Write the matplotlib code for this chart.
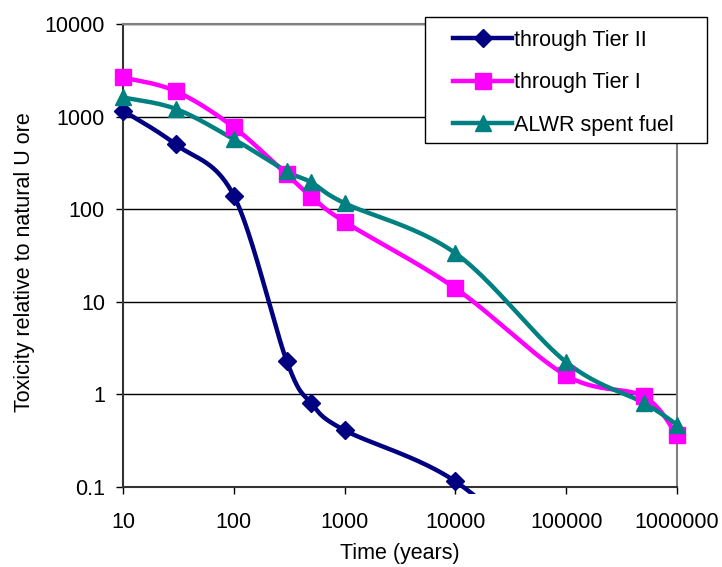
import numpy as np
import matplotlib
matplotlib.use("Agg")
import matplotlib.pyplot as plt
from matplotlib.patches import Rectangle

plt.rcParams['font.family'] = ['Liberation Sans', 'DejaVu Sans']

# data (time in years, toxicity relative to natural U ore)
years_tier2 = [10, 30, 100, 300, 500, 1000, 10000, 100000]
tox_tier2 = [1160, 500, 140, 2.3, 0.8, 0.41, 0.115, 0.01]

years_tier1 = [10, 30, 100, 300, 500, 1000, 10000, 100000, 500000, 1000000]
tox_tier1 = [2650, 1880, 767, 237, 137, 73, 14, 1.6, 0.95, 0.36]

years_alwr = [10, 30, 100, 300, 500, 1000, 10000, 100000, 500000, 1000000]
tox_alwr = [1610, 1210, 570, 257, 195, 116, 33.5, 2.23, 0.81, 0.47]

labels = ["through Tier II", "through Tier I", "ALWR spent fuel"]
colors = ["#000080", "#FF00FF", "#008080"]
markers = ["D", "s", "^"]
msizes = [9.5, 11, 11]

x_ticks = [10, 100, 1000, 10000, 100000, 1000000]
y_ticks = [0.1, 1, 10, 100, 1000, 10000]

FS = 15.5
W, H = 722, 567


def smooth(xs, ys, n=40):
    # catmull-rom in log space, roughly what excel's "smoothed line" does
    lx = np.log10(xs)
    ly = np.log10(ys)
    px = np.concatenate(([lx[0]], lx, [lx[-1]]))
    py = np.concatenate(([ly[0]], ly, [ly[-1]]))
    outx, outy = [], []
    for i in range(1, len(px) - 2):
        p0, p1, p2, p3 = px[i-1], px[i], px[i+1], px[i+2]
        q0, q1, q2, q3 = py[i-1], py[i], py[i+1], py[i+2]
        c1x, c1y = p1 + (p2 - p0) / 6, q1 + (q2 - q0) / 6
        c2x, c2y = p2 - (p3 - p1) / 6, q2 - (q3 - q1) / 6
        t = np.linspace(0, 1, n)
        bx = (1-t)**3*p1 + 3*(1-t)**2*t*c1x + 3*(1-t)*t**2*c2x + t**3*p2
        by = (1-t)**3*q1 + 3*(1-t)**2*t*c1y + 3*(1-t)*t**2*c2y + t**3*q2
        outx.extend(bx)
        outy.extend(by)
    return 10**np.array(outx), 10**np.array(outy)


fig = plt.figure(figsize=(W / 100, H / 100), dpi=100)
ax = fig.add_axes([123 / W, 1 - 487 / H, 554 / W, 463 / H])

# excel lets the lines run a few pixels past the bottom of the plot area
clip = Rectangle((0, -0.016), 1, 1.016, transform=ax.transAxes, fill=False, visible=False)
ax.add_patch(clip)

series = [(years_tier2, tox_tier2), (years_tier1, tox_tier1), (years_alwr, tox_alwr)]
handles = []
for (xs, ys), lab, c, m, ms in zip(series, labels, colors, markers, msizes):
    sx, sy = smooth(xs, ys)
    ln, = ax.plot(sx, sy, color=c, lw=3.2, zorder=3)
    ln.set_clip_path(clip)
    # markers only where they fall inside the y range, but not clipped at the frame
    keep = [(x, y) for x, y in zip(xs, ys) if y >= 0.1]
    ax.plot([p[0] for p in keep], [p[1] for p in keep], ls='none', marker=m,
            color=c, ms=ms, zorder=4, clip_on=False)
    # proxy for the legend
    h, = ax.plot([], [], color=c, lw=3.2, marker=m, ms=ms, label=lab)
    handles.append(h)

ax.set_xscale('log')
ax.set_yscale('log')
ax.set_xlim(10, 1000000)
ax.set_ylim(0.1, 10000)
ax.set_xticks(x_ticks)
ax.set_xticklabels([str(v) for v in x_ticks])
ax.set_yticks(y_ticks)
ax.set_yticklabels(["0.1", "1", "10", "100", "1000", "10000"])
ax.minorticks_off()
ax.tick_params(labelsize=FS, direction='out', length=5, width=1, colors='#000000')
ax.tick_params(axis='x', pad=13)
ax.tick_params(axis='y', pad=8)

ax.grid(True, axis='y', color='black', lw=1)
ax.set_axisbelow(True)

for s in ['top', 'right']:
    ax.spines[s].set_color('#808080')
    ax.spines[s].set_linewidth(1.5)
for s in ['left', 'bottom']:
    ax.spines[s].set_color('#333333')
    ax.spines[s].set_linewidth(1.5)

ax.set_xlabel("Time (years)", fontsize=FS, labelpad=7)
ax.set_ylabel("Toxicity relative to natural U ore", fontsize=FS, labelpad=7)
ax.yaxis.label.set_y(0.486)

# legend box sits over the top-right corner of the plot area
box = Rectangle((425 / W, 1 - 143 / H), 282 / W, 126 / H, transform=fig.transFigure,
                facecolor='white', edgecolor='black', lw=1, zorder=5)
fig.add_artist(box)
leg = fig.legend(handles, labels, loc='center left', bbox_to_anchor=(453 / W, 1 - 83 / H),
                 fontsize=FS, frameon=False, handlelength=2.75, handletextpad=0.1,
                 labelspacing=1.0, borderpad=0, borderaxespad=0)
leg.set_zorder(6)

fig.savefig("out.png", dpi=100)
